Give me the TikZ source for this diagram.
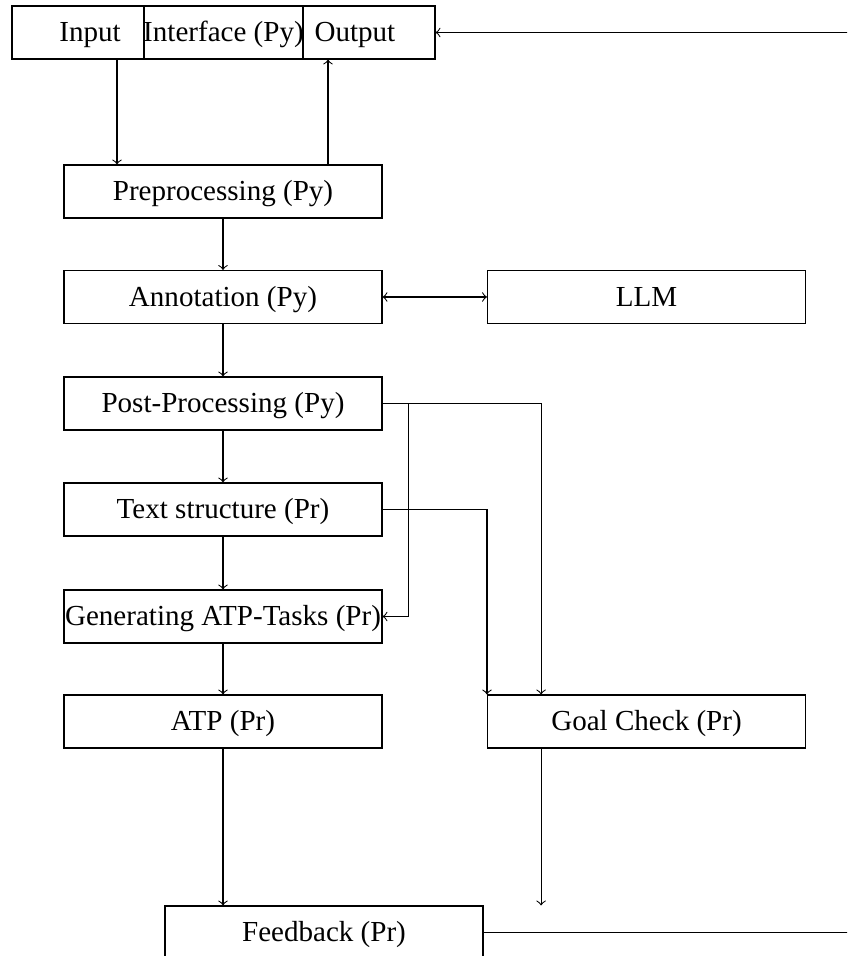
\documentclass[tikz,border=0pt]{standalone}
\usepackage{fontspec}
\setmainfont{Liberation Serif}
\begin{document}
\begin{tikzpicture}[x=0.37pt,y=-0.37pt, line width=0.4pt,
  txtfont/.style={font=\fontsize{10.75}{13}\selectfont, text height=6.8pt, text depth=0pt},
  box/.style={draw, minimum width=117.66pt, minimum height=19.61pt, inner sep=0pt, txtfont},
  conn/.style={->}]
\useasboundingbox (0,0) rectangle (847,956);
\clip (0,0) rectangle (847,956);
% top interface bar
\node[box, minimum width=48.84pt, label={[xshift=4.44pt, txtfont, inner sep=0pt]center:Input}] (in) at (78,32.5) {};
\node[box, minimum width=58.83pt] (itf) at (223.5,32.5) {Interface (Py)};
\node[box, minimum width=48.84pt, label={[xshift=-5.2pt, txtfont, inner sep=0pt]center:Output}] (out) at (369,32.5) {};
% pipeline
\node[box] (pre)  at (223,191.5) {Preprocessing (Py)};
\node[box] (ann)  at (223,297)   {Annotation (Py)};
\node[box] (llm)  at (646.5,297) {LLM};
\node[box] (post) at (223,403.5) {Post-Processing (Py)};
\node[box] (txt)  at (223,509.5) {Text structure (Pr)};
\node[box] (gen)  at (223,616.5) {Generating ATP-Tasks (Pr)};
\node[box] (atp)  at (223,721.5) {ATP (Pr)};
\node[box] (goal) at (646.5,721.5) {Goal Check (Pr)};
\node[box] (fb)   at (324,932.5) {Feedback (Pr)};
% connectors
\draw[conn] ([xshift=14.43pt]in.south) -- ([xshift=14.43pt]in.south |- pre.north);
\draw[conn] ([xshift=-15.17pt]out.south |- pre.north) -- ([xshift=-15.17pt]out.south);
\draw[conn] (pre) -- (ann);
\draw[<->] (ann) -- (llm);
\draw[conn] (ann) -- (post);
\draw[conn] (post) -- (txt);
\draw[conn] (txt) -- (gen);
\draw[conn] (gen) -- (atp);
\draw[conn] (post.east) -- ++(26,0) |- (gen.east);
\draw[conn] (post.east) -| ([xshift=-39pt]goal.north);
\draw[conn] (txt.east) -| (goal.north west);
\draw[conn] (atp.south) -- (atp.south |- fb.north);
\draw[conn] ([xshift=-39pt]goal.south) -- ([xshift=-39pt]goal.south |- fb.north);
\draw[conn] (fb.east) -- ++(400,0) |- (out.east);
\end{tikzpicture}
\end{document}
